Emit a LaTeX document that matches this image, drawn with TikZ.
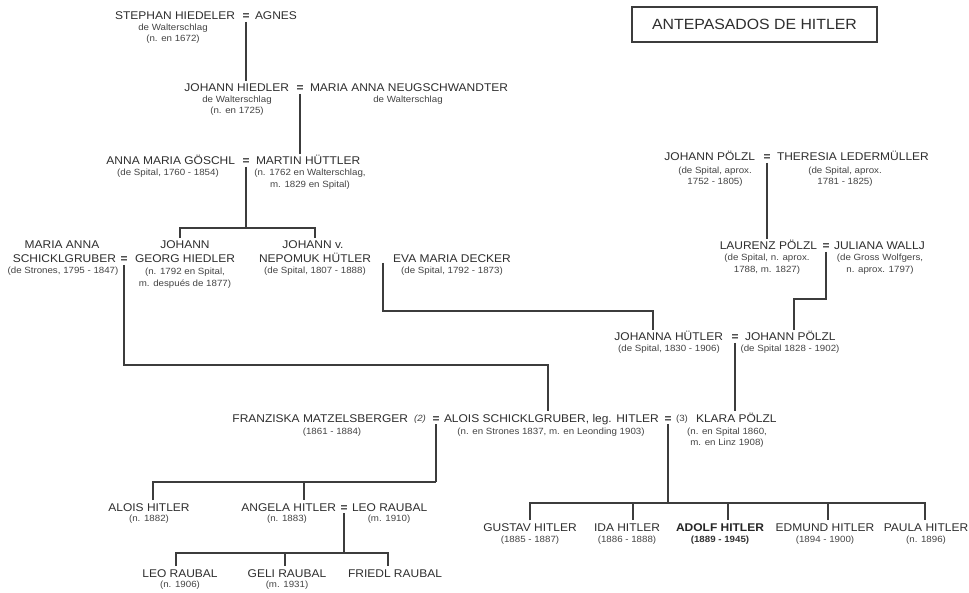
\documentclass[tikz,border=0pt]{standalone}
\usepackage{fontspec}
\setmainfont{Liberation Sans}
\newfontfamily\nmfont[FakeStretch=1.07]{Liberation Sans}
\newfontfamily\smfont[FakeStretch=1.08]{Liberation Sans}
\definecolor{tx}{HTML}{2E2E2E}
\definecolor{st}{HTML}{444444}
\definecolor{lnc}{HTML}{3C3C3C}
\begin{document}
\begin{tikzpicture}[x=1pt,y=-1pt,
 nm/.style={inner sep=0pt, outer sep=3pt, text height=8pt, text depth=0pt, font=\nmfont\fontsize{11.2}{12}\selectfont, text=tx},
 sm/.style={inner sep=0pt, font=\smfont\fontsize{9}{10}\selectfont, text=st},
 eqs/.style={inner sep=0pt, text height=8pt, text depth=0pt, font=\nmfont\bfseries\fontsize{11.2}{12}\selectfont, text=tx},
 ln/.style={draw=lnc, line width=1.4pt}]
\useasboundingbox (0,0) rectangle (969,593);
\fill[white] (0,0) rectangle (969,593);

% title
\node[draw=lnc, line width=1.2pt, minimum width=245pt, minimum height=35pt, inner sep=0pt,
  font=\nmfont\fontsize{14.8}{16}\selectfont, text=tx] (title) at (754.5,24.5) {ANTEPASADOS DE HITLER};

% row 1
\node[nm, anchor=east] (stephan) at (238,16) {STEPHAN HIEDELER};
\node[eqs] (eq1) at (246,16) {=};
\node[nm, anchor=west] (agnes) at (252,16) {AGNES};
\node[sm] (s1a) at (173,28) {de Walterschlag};
\node[sm] (s1b) at (173,39) {(n. en 1672)};

% row 2
\node[nm, anchor=east] (jhn) at (292,88) {JOHANN HIEDLER};
\node[eqs] (eq2) at (300,88) {=};
\node[nm, anchor=west] (manw) at (307,88) {MARIA ANNA NEUGSCHWANDTER};
\node[sm] (s2a) at (237,100) {de Walterschlag};
\node[sm] (s2b) at (237,111) {(n. en 1725)};
\node[sm] (s2c) at (408,100) {de Walterschlag};

% row 3
\node[nm, anchor=east] (amg) at (238,161) {ANNA MARIA GÖSCHL};
\node[eqs] (eq3) at (246,161) {=};
\node[nm, anchor=west] (mh) at (253,161) {MARTIN HÜTTLER};
\node[sm] (s3a) at (168,173) {(de Spital, 1760 - 1854)};
\node[sm] (s3b) at (310,173) {(n. 1762 en Walterschlag,};
\node[sm] (s3c) at (310,185) {m. 1829 en Spital)};

% row 4
\node[nm] (mas1) at (62,245) {MARIA ANNA};
\node[nm, anchor=east] (mas2) at (119,259) {SCHICKLGRUBER};
\node[eqs] (eq4) at (124,259) {=};
\node[sm] (s4a) at (63,271) {(de Strones, 1795 - 1847)};
\node[nm] (jg1) at (185,245) {JOHANN};
\node[nm] (jg2) at (185,259) {GEORG HIEDLER};
\node[sm] (s4b) at (185,272) {(n. 1792 en Spital,};
\node[sm] (s4c) at (185,284) {m. después de 1877)};
\node[nm] (jn1) at (313,245) {JOHANN v.};
\node[nm] (jn2) at (315,259) {NEPOMUK HÜTLER};
\node[sm] (s4d) at (315,271) {(de Spital, 1807 - 1888)};
\node[nm] (emd) at (452,259) {EVA MARIA DECKER};
\node[sm] (s4e) at (452,271) {(de Spital, 1792 - 1873)};

% Pölzl side
\node[nm, anchor=east] (jp1) at (758,157) {JOHANN PÖLZL};
\node[eqs] (eqp1) at (767,157) {=};
\node[nm, anchor=west] (tl) at (774,157) {THERESIA LEDERMÜLLER};
\node[sm] (s5a) at (715,171) {(de Spital, aprox.};
\node[sm] (s5b) at (715,182) {1752 - 1805)};
\node[sm] (s5c) at (845,171) {(de Spital, aprox.};
\node[sm] (s5d) at (845,182) {1781 - 1825)};

\node[nm, anchor=east] (lp) at (820,246) {LAURENZ PÖLZL};
\node[eqs] (eqp2) at (826,246) {=};
\node[nm, anchor=west] (jw) at (831,246) {JULIANA WALLJ};
\node[sm] (s6a) at (767,258) {(de Spital, n. aprox.};
\node[sm] (s6b) at (767,270) {1788, m. 1827)};
\node[sm] (s6c) at (880,258) {(de Gross Wolfgers,};
\node[sm] (s6d) at (880,270) {n. aprox. 1797)};

\node[nm, anchor=east] (jh) at (726,337) {JOHANNA HÜTLER};
\node[eqs] (eqp3) at (735,337) {=};
\node[nm, anchor=west] (jp2) at (742,337) {JOHANN PÖLZL};
\node[sm] (s7a) at (669,349) {(de Spital, 1830 - 1906)};
\node[sm] (s7b) at (790,349) {(de Spital 1828 - 1902)};

% Alois row
\node[nm, anchor=east] (fm) at (411,418) {FRANZISKA MATZELSBERGER};
\node[sm, font=\smfont\itshape\fontsize{9}{10}\selectfont] (n2) at (420,419) {(2)};
\node[eqs] (eqa1) at (436,418) {=};
\node[nm, anchor=west] (alois) at (441,418) {ALOIS SCHICKLGRUBER, leg. HITLER};
\node[eqs] (eqa2) at (668,418) {=};
\node[sm] (n3) at (682,419) {(3)};
\node[nm, anchor=west] (klara) at (693,418) {KLARA PÖLZL};
\node[sm] (s8a) at (332,432) {(1861 - 1884)};
\node[sm] (s8b) at (551,432) {(n. en Strones 1837, m. en Leonding 1903)};
\node[sm] (s8c) at (727,432) {(n. en Spital 1860,};
\node[sm] (s8d) at (727,443) {m. en Linz 1908)};

% children of Franziska
\node[nm] (ah) at (149,507) {ALOIS HITLER};
\node[sm] (s9a) at (149,519) {(n. 1882)};
\node[nm, anchor=east] (ang) at (339,507) {ANGELA HITLER};
\node[eqs] (eqang) at (344,507) {=};
\node[nm, anchor=west] (lr) at (349,507) {LEO RAUBAL};
\node[sm] (s9b) at (287,519) {(n. 1883)};
\node[sm] (s9c) at (389,519) {(m. 1910)};

% grandchildren
\node[nm] (leo2) at (180,573) {LEO RAUBAL};
\node[nm] (geli) at (287,573) {GELI RAUBAL};
\node[nm] (friedl) at (395,573) {FRIEDL RAUBAL};
\node[sm] (s10a) at (180,585) {(n. 1906)};
\node[sm] (s10b) at (287,585) {(m. 1931)};

% children of Klara
\node[nm] (gustav) at (530,527) {GUSTAV HITLER};
\node[nm] (ida) at (627,527) {IDA HITLER};
\node[nm, font=\nmfont\bfseries\fontsize{11.2}{12}\selectfont, text=black!85] (adolf) at (720,527) {ADOLF HITLER};
\node[nm] (edmund) at (825,527) {EDMUND HITLER};
\node[nm] (paula) at (926,527) {PAULA HITLER};
\node[sm] (s11a) at (530,540) {(1885 - 1887)};
\node[sm] (s11b) at (627,540) {(1886 - 1888)};
\node[sm, font=\smfont\bfseries\fontsize{9}{10}\selectfont, text=black!80] (s11c) at (720,540) {(1889 - 1945)};
\node[sm] (s11d) at (825,540) {(1894 - 1900)};
\node[sm] (s11e) at (926,540) {(n. 1896)};

% junction coordinates
\coordinate (h3) at (246,228);
\coordinate (h3l) at (180,228);
\coordinate (h3r) at (315,228);
\coordinate (h4) at (124,365);
\coordinate (h4r) at (548,365);
\coordinate (n1) at (383,263);
\coordinate (n2) at (653,311);
\coordinate (p2) at (794,299);
\coordinate (a1) at (436,482);
\coordinate (a1l) at (153,482);
\coordinate (a1m) at (304,482);
\coordinate (a2) at (668,503);
\coordinate (a2l) at (530,503);
\coordinate (a2b) at (633,503);
\coordinate (a2c) at (728,503);
\coordinate (a2d) at (828,503);
\coordinate (a2r) at (925,503);
\coordinate (a3) at (344,553);
\coordinate (a3l) at (176,553);
\coordinate (a3m) at (285,553);
\coordinate (a3r) at (388,553);

% connectors
\draw[ln] ([yshift=-6pt]eq1.center) -- (eq1.center |- jhn.north);
\draw[ln] ([yshift=-6pt]eq2.center) -- (eq2.center |- mh.north);
\draw[ln] ([yshift=-6pt]eq3.center) -- (h3);
\draw[ln] (h3l |- jg1.north) -- (h3l) -- (h3r) -- (h3r |- jn1.north);
\draw[ln] ([yshift=-6pt]eq4.center) -- (h4) -- (h4r) -- (h4r |- alois.north);
\draw[ln] (n1) |- (n2) -- (n2 |- jh.north);
\draw[ln] ([yshift=-6pt]eqp1.center) -- (eqp1.center |- lp.north);
\draw[ln] ([yshift=-6pt]eqp2.center) |- (p2) -- (p2 |- jp2.north);
\draw[ln] ([yshift=-6pt]eqp3.center) -- (eqp3.center |- klara.north);
\draw[ln] ([yshift=-6pt]eqa1.center) -- (a1);
\draw[ln] (a1l |- ah.north) -- (a1l) -- (a1);
\draw[ln] (a1m) -- (a1m |- ang.north);
\draw[ln] ([yshift=-6pt]eqa2.center) -- (a2);
\draw[ln] (a2l |- gustav.north) -- (a2l) -- (a2r) -- (a2r |- paula.north);
\draw[ln] (a2b) -- (a2b |- ida.north);
\draw[ln] (a2c) -- (a2c |- adolf.north);
\draw[ln] (a2d) -- (a2d |- edmund.north);
\draw[ln] ([yshift=-6pt]eqang.center) -- (a3);
\draw[ln] (a3l |- leo2.north) -- (a3l) -- (a3r) -- (a3r |- friedl.north);
\draw[ln] (a3m) -- (a3m |- geli.north);
\end{tikzpicture}
\end{document}
